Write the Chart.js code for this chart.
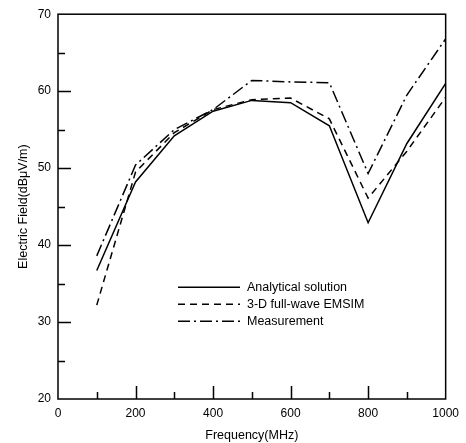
<!DOCTYPE html>
<html>
<head>
<meta charset="utf-8">
<script src="https://cdn.jsdelivr.net/npm/chart.js@4.4.1/dist/chart.umd.min.js"></script>
<style>
  html, body { margin: 0; padding: 0; background: #fff; }
  #wrap { width: 466px; height: 443px; }
</style>
</head>
<body>
<div id="wrap"><canvas id="efChart" width="466" height="443"></canvas></div>
<script>
var frequencies = [100, 200, 300, 400, 500, 600, 700, 800, 900, 1000];
var analytical = [36.7, 48.2, 54.2, 57.4, 58.8, 58.5, 55.5, 42.9, 53.2, 61.0];
var emsim = [32.2, 49.5, 54.6, 57.6, 58.9, 59.1, 56.4, 46.1, 52.2, 59.2];
var measurement = [38.6, 50.4, 55.0, 57.6, 61.4, 61.2, 61.1, 49.3, 59.5, 66.8];
var seriesNames = ['Analytical solution', '3-D full-wave EMSIM', 'Measurement'];

var FONT = "'Liberation Sans', Arial, sans-serif";

function toPoints(vals) {
    return frequencies.map(function (f, i) { return { x: f, y: vals[i] }; });
}

// inward tick marks + closed frame
var frameTicks = {
    id: 'frameTicks',
    afterDraw: function (chart) {
        var c = chart.ctx, a = chart.chartArea;
        var xs = chart.scales.x, ys = chart.scales.y;
        c.save();
        c.strokeStyle = '#000';
        c.lineWidth = 1.5;
        c.strokeRect(a.left, a.top, a.right - a.left, a.bottom - a.top);
        c.beginPath();
        xs.ticks.forEach(function (t) {
            if (t.value <= xs.min || t.value >= xs.max) return;
            var px = Math.round(xs.getPixelForValue(t.value)) + 0.5;
            var len = t.value % 200 === 0 ? 13 : 7;
            c.moveTo(px, a.bottom);
            c.lineTo(px, a.bottom - len);
        });
        ys.ticks.forEach(function (t) {
            if (t.value <= ys.min || t.value >= ys.max) return;
            var py = Math.round(ys.getPixelForValue(t.value)) + 0.5;
            var len = t.value % 10 === 0 ? 13 : 7;
            c.moveTo(a.left, py);
            c.lineTo(a.left + len, py);
        });
        c.stroke();
        c.restore();
    }
};

// legend drawn inside the plot
var innerLegend = {
    id: 'innerLegend',
    afterDraw: function (chart) {
        var c = chart.ctx, a = chart.chartArea;
        var x0 = a.left + 120, x1 = x0 + 62;
        var y0 = a.top + 273;
        c.save();
        c.font = '12.5px ' + FONT;
        c.fillStyle = '#000';
        c.textBaseline = 'middle';
        chart.data.datasets.forEach(function (ds, i) {
            var y = y0 + i * 17;
            c.strokeStyle = '#000';
            c.lineWidth = 1.5;
            c.setLineDash(ds.borderDash || []);
            c.beginPath();
            c.moveTo(x0, y);
            c.lineTo(x1, y);
            c.stroke();
            c.setLineDash([]);
            c.fillText(ds.label, x1 + 7, y);
        });
        c.restore();
    }
};

var ctx = document.getElementById('efChart').getContext('2d');
var chart = new Chart(ctx, {
    type: 'line',
    data: {
        datasets: [{
            label: seriesNames[0],
            data: toPoints(analytical),
            borderColor: '#000',
            borderWidth: 1.5,
            pointRadius: 0,
            tension: 0
        }, {
            label: seriesNames[1],
            data: toPoints(emsim),
            borderColor: '#000',
            borderWidth: 1.5,
            borderDash: [7, 5],
            pointRadius: 0,
            tension: 0
        }, {
            label: seriesNames[2],
            data: toPoints(measurement),
            borderColor: '#000',
            borderWidth: 1.5,
            borderDash: [12, 4, 2, 4],
            pointRadius: 0,
            tension: 0
        }]
    },
    options: {
        responsive: false,
        animation: false,
        layout: { padding: { left: 16, right: 20, top: 10, bottom: 0 } },
        plugins: { legend: { display: false }, tooltip: { enabled: false } },
        scales: {
            x: {
                type: 'linear',
                min: 0,
                max: 1000,
                grid: { display: false, drawTicks: false },
                border: { display: false },
                ticks: {
                    stepSize: 100,
                    padding: 7,
                    maxRotation: 0,
                    autoSkip: false,
                    color: '#000',
                    font: { family: FONT, size: 12 },
                    callback: function (v) { return v % 200 === 0 ? String(v) : ''; }
                },
                title: {
                    display: true,
                    text: 'Frequency(MHz)',
                    color: '#000',
                    font: { family: FONT, size: 12.5 },
                    padding: { top: 1, bottom: 0 }
                },
                afterFit: function (s) { s.height = 44; }
            },
            y: {
                min: 20,
                max: 70,
                grid: { display: false, drawTicks: false },
                border: { display: false },
                ticks: {
                    stepSize: 5,
                    padding: 7,
                    autoSkip: false,
                    color: '#000',
                    font: { family: FONT, size: 12 },
                    callback: function (v) { return v % 10 === 0 ? String(v) : ''; }
                },
                title: {
                    display: true,
                    text: 'Electric Field(dBμV/m)',
                    color: '#000',
                    font: { family: FONT, size: 12.5 },
                    padding: { top: 0, bottom: 0 }
                },
                afterFit: function (s) { s.width = 42; }
            }
        }
    },
    plugins: [frameTicks, innerLegend]
});
</script>
</body>
</html>
